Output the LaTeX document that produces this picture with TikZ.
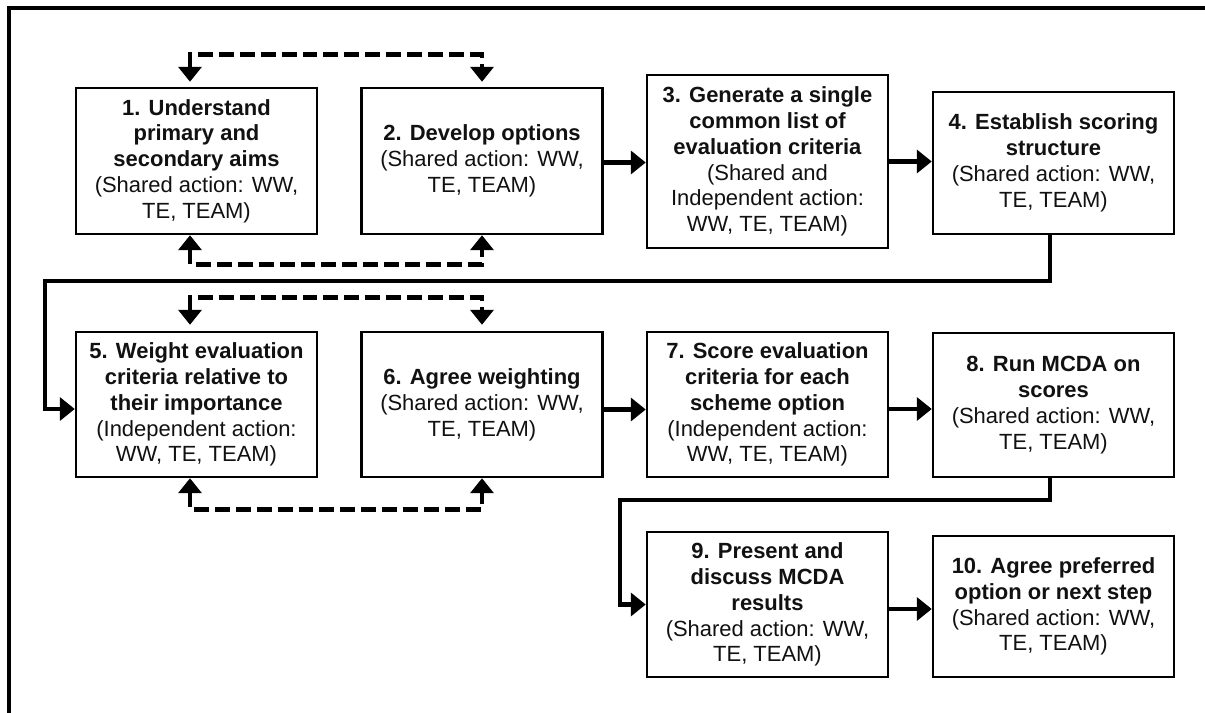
\documentclass[tikz,border=0pt]{standalone}
\usepackage{fontspec}
\setmainfont{Liberation Sans}
\definecolor{FrameBlack}{HTML}{000000}
\definecolor{TextBlack}{HTML}{111111}
\usetikzlibrary{arrows.meta,positioning,calc}
\tikzset{
  stepbox/.style={draw=FrameBlack, line width=1.4pt, fill=white, align=center, minimum width=4.82cm, inner sep=2pt, text=TextBlack, font=\fontsize{12.5}{14.7}\selectfont},
  flowarrow/.style={-{Triangle[length=3mm,width=4.6mm]}, line width=2.7pt, draw=FrameBlack},
  loopArrow/.style={{Triangle[length=3mm,width=4.6mm]}-{Triangle[length=3mm,width=4.6mm]}, line width=2.6pt, draw=FrameBlack, dash pattern=on 8.5pt off 3.4pt},
  frameLine/.style={line width=2.6pt, draw=FrameBlack}
}

\begin{document}
\begin{tikzpicture}[x=1cm,y=1cm]
  \useasboundingbox (0,0) rectangle (24.1,-14.26);
  \draw[frameLine] (0.18,-14.26) -- (0.18,-0.16) -- (24.1,-0.16);

  \node[stepbox, minimum height=2.92cm] (B1) at (3.93,-3.22)
    {\textbf{1. Understand}\\\textbf{primary and}\\\textbf{secondary aims}\\(Shared action: WW,\\TE, TEAM)};
  \node[stepbox, minimum height=2.92cm] (B2) at (9.64,-3.22)
    {\textbf{2. Develop options}\\(Shared action: WW,\\TE, TEAM)};
  \node[stepbox, minimum height=3.46cm] (B3) at (15.35,-3.23)
    {\textbf{3. Generate a single}\\\textbf{common list of}\\\textbf{evaluation criteria}\\(Shared and\\Independent action:\\WW, TE, TEAM)};
  \node[stepbox, minimum height=2.84cm] (B4) at (21.07,-3.26)
    {\textbf{4. Establish scoring}\\\textbf{structure}\\(Shared action: WW,\\TE, TEAM)};

  \node[stepbox, minimum height=2.90cm] (B5) at (3.93,-8.09)
    {\textbf{5. Weight evaluation}\\\textbf{criteria relative to}\\\textbf{their importance}\\(Independent action:\\WW, TE, TEAM)};
  \node[stepbox, minimum height=2.90cm] (B6) at (9.64,-8.09)
    {\textbf{6. Agree weighting}\\(Shared action: WW,\\TE, TEAM)};
  \node[stepbox, minimum height=2.90cm] (B7) at (15.35,-8.09)
    {\textbf{7. Score evaluation}\\\textbf{criteria for each}\\\textbf{scheme option}\\(Independent action:\\WW, TE, TEAM)};
  \node[stepbox, minimum height=2.88cm] (B8) at (21.07,-8.10)
    {\textbf{8. Run MCDA on}\\\textbf{scores}\\(Shared action: WW,\\TE, TEAM)};

  \node[stepbox, minimum height=2.90cm] (B9) at (15.35,-12.09)
    {\textbf{9. Present and}\\\textbf{discuss MCDA}\\\textbf{results}\\(Shared action: WW,\\TE, TEAM)};
  \node[stepbox, minimum height=2.82cm] (B10) at (21.07,-12.13)
    {\textbf{10. Agree preferred}\\\textbf{option or next step}\\(Shared action: WW,\\TE, TEAM)};

  \coordinate (bendA) at (0.9,-5.62);
  \coordinate (bendB) at (12.4,-10.0);

  \draw[flowarrow] ([yshift=-0.3mm]B2.east) -- ([yshift=-0.3mm]B2.east -| B3.west);
  \draw[flowarrow] (B3.east) -- (B3.east -| B4.west);
  \draw[flowarrow] ([xshift=-0.7mm]B4.south) |- (bendA) |- ([yshift=-0.9mm]B5.west);
  \draw[flowarrow] ([yshift=-1mm]B6.east) -- ([yshift=-1mm]B6.east -| B7.west);
  \draw[flowarrow] ([yshift=-0.9mm]B7.east) -- ([yshift=-0.9mm]B7.east -| B8.west);
  \draw[flowarrow] ([xshift=-0.7mm]B8.south) |- (bendB) |- (B9.west);
  \draw[flowarrow] ([yshift=-0.9mm]B9.east) -- ([yshift=-0.9mm]B9.east -| B10.west);

  \draw[loopArrow] ([xshift=-1.3mm,yshift=1mm]B1.north) -- ++(0,0.54) -| ([yshift=1mm]B2.north);
  \draw[loopArrow] ([xshift=-1.3mm]B1.south) -- ++(0,-0.58) -| (B2.south);
  \draw[loopArrow] ([xshift=-1.3mm,yshift=1.2mm]B5.north) -- ++(0,0.54) -| ([yshift=1.2mm]B6.north);
  \draw[loopArrow] ([xshift=-1.3mm]B5.south) -- ++(0,-0.62) -| (B6.south);
\end{tikzpicture}
\end{document}
